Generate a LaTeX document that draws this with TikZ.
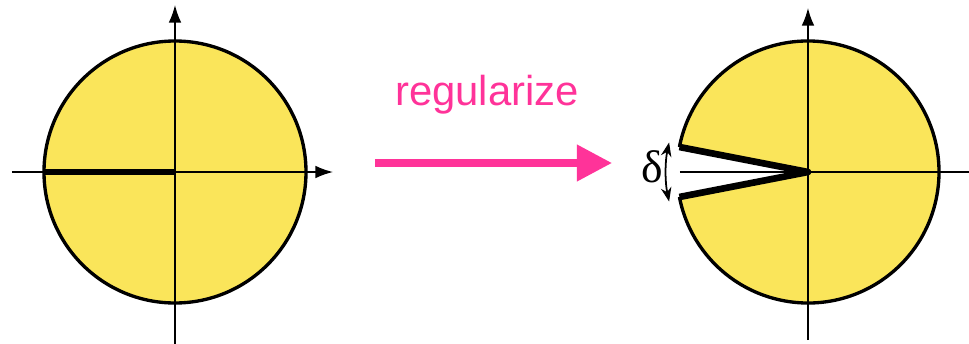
\documentclass[tikz,border=0pt]{standalone}
\usepackage{fontspec}
\newfontfamily\arialfont{Liberation Sans}
\newfontfamily\timesfont{Liberation Serif}
\usetikzlibrary{arrows.meta}
\definecolor{diskyellow}{HTML}{FAE55A}
\definecolor{hotpink}{HTML}{FF3399}
\tikzset{
  axis/.style={line width=0.45pt, -{Latex[length=5pt,width=3.6pt]}},
  rim/.style={line width=0.95pt},
  cut/.style={line width=1.6pt},
}
\begin{document}
\begin{tikzpicture}
  \useasboundingbox (-1.75,-1.71) rectangle (7.94,1.72);
  % disk with branch cut
  \fill[diskyellow] (0,0) circle (1.31);
  \draw[axis] (-1.63,0) -- (1.58,0);
  \draw[axis] (0,-1.75) -- (0,1.67);
  \draw[rim] (0,0) circle (1.31);
  \draw[cut] (-1.31,0) -- (0,0);
  % regularized disk
  \coordinate (c) at (6.33,0);
  \fill[diskyellow] (c) -- +(169:1.31) arc (169:-169:1.31) -- cycle;
  \draw[line width=0.45pt] (5.05,0) -- (7.96,0);
  \draw[axis] (6.33,-1.68) -- (6.33,1.64);
  \draw[rim] (c) ++(169:1.31) arc (169:-169:1.31);
  \draw[line width=1.9pt, line join=round] (c) ++(169:1.31) -- (c) -- +(191:1.31);
  \draw[line width=0.5pt, {Stealth[length=4pt]}-{Stealth[length=4pt]}] (c) ++(168:1.42) arc (168:192:1.42);
  \node (delta) at (4.77,0.05) {\timesfont\fontsize{13}{13}\selectfont δ};
  % arrow
  \coordinate (regstart) at (2.0,0.09);
  \coordinate (regend) at (4.37,0.09);
  \draw[hotpink, line width=2pt, -{Triangle[length=0.35cm,width=0.35cm]}] (regstart) -- (regend);
  \node[hotpink] (regtext) at (3.12,0.77) {\arialfont\fontsize{11.9}{12}\selectfont regularize};
\end{tikzpicture}
\end{document}
